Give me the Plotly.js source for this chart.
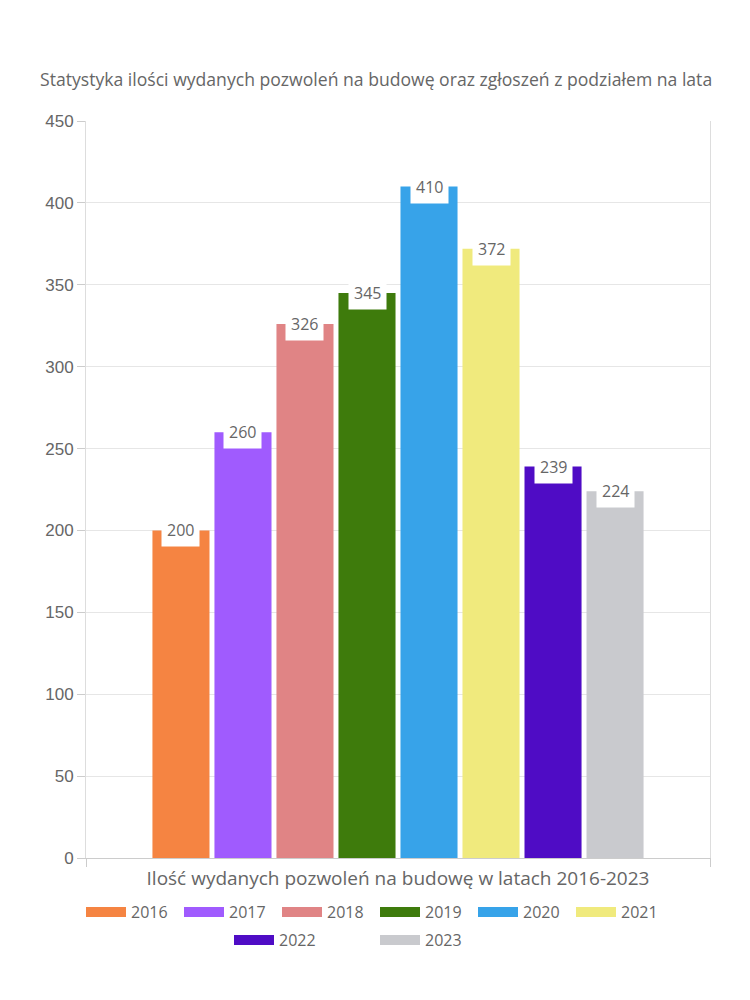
<!DOCTYPE html>
<html><head><meta charset="utf-8">
<script src="https://cdn.plot.ly/plotly-3.0.1.min.js"></script>
<style>body{margin:0}#chart{width:750px;height:1000px}</style>
</head><body><div id="chart"></div>
<script>
const category = "Ilość wydanych pozwoleń na budowę w latach 2016-2023";
const years = ["2016","2017","2018","2019","2020","2021","2022","2023"];
const values = [200, 260, 326, 345, 410, 372, 239, 224];
const colors = ["#F58442","#A05BFE","#E08485","#3E7B0C","#37A3E9","#F0EA7D","#4F0CC5","#C9CACE"];
const yTicks = [0,50,100,150,200,250,300,350,400,450];
const legendRow1Count = 6;

const bargap = 0.205, bargroupgap = 0.08;
const labelFont = "'Open Sans', Lato, sans-serif";

const traces = [];
years.forEach((y,i)=>{
  traces.push({type:'bar', name:y, x:[category], y:[values[i]], marker:{color:colors[i]},
    showlegend:false, hoverinfo:'y'});
});
years.forEach((y,i)=>{
  traces.push({type:'scatter', mode:'lines', name:y, x:[null], y:[null],
    line:{color:colors[i], width:20}, showlegend:true,
    legend: i < legendRow1Count ? 'legend' : 'legend2'});
});

const n = years.length, groupW = 1 - bargap;
const annotations = values.map((v,i)=>({
  x: -groupW/2 + (i+0.5)*groupW/n, y: v, xref:'x', yref:'y',
  text: String(v), showarrow:false, yanchor:'middle',
  bgcolor:'#ffffff', borderpad:5,
  font:{family:labelFont, size:16, color:'#666666'}
}));

const legendFont = {family:labelFont, size:16, color:'#666666'};
const layout = {
  width:750, height:1000,
  margin:{l:86, r:40, t:121, b:142},
  paper_bgcolor:'#ffffff', plot_bgcolor:'#ffffff',
  title:{text:"Statystyka ilości wydanych pozwoleń na budowę oraz zgłoszeń z podziałem na lata",
    x:40/750, xref:'container', xanchor:'left', y:1-80/1000, yref:'container', yanchor:'middle',
    font:{family:labelFont, size:17.6, color:'#666666'}},
  barmode:'group', bargap:bargap, bargroupgap:bargroupgap,
  xaxis:{type:'category', showline:true, linecolor:'#cccccc', ticks:'outside', tickson:'boundaries',
    ticklen:8, tickcolor:'#cccccc', showgrid:false, ticklabelstandoff:3,
    tickfont:{family:labelFont, size:19, color:'#666666'}},
  yaxis:{range:[0,450], tickvals:yTicks, ticks:'outside', ticklen:8, tickcolor:'#cccccc',
    showline:true, mirror:true, linecolor:'#dddddd', gridcolor:'#e6e6e6', zeroline:false,
    tickfont:{family:"'Liberation Sans', Arial, sans-serif", size:17, color:'#666666'}},
  legend:{orientation:'h', xref:'container', x:0.5, xanchor:'center', yref:'container', y:1-912/1000, yanchor:'middle',
    entrywidth:43, entrywidthmode:'pixels', itemwidth:40, font:legendFont},
  legend2:{orientation:'h', xref:'container', x:0.5, xanchor:'center', yref:'container', y:1-940/1000, yanchor:'middle',
    entrywidth:91, entrywidthmode:'pixels', itemwidth:40, font:legendFont},
  annotations:annotations
};
Plotly.newPlot('chart', traces, layout, {displayModeBar:false});
</script></body></html>
